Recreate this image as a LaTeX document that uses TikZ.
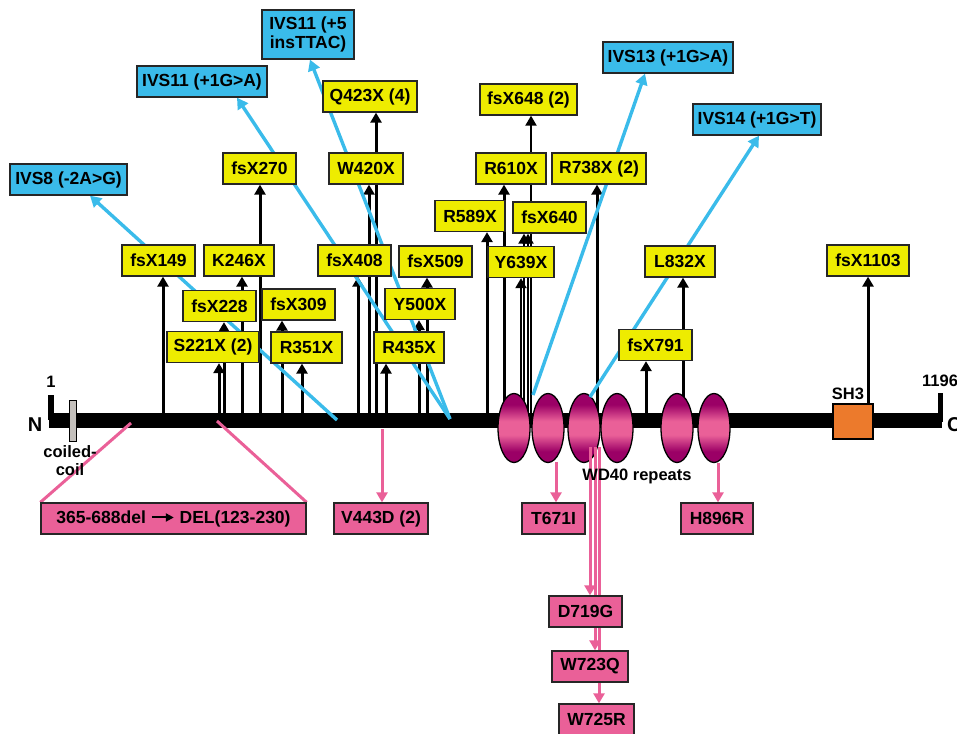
\documentclass[tikz,border=0pt]{standalone}
\usepackage{fontspec}
\setmainfont{Liberation Sans}
\usetikzlibrary{arrows.meta,shapes.geometric}
\definecolor{stopyellow}{RGB}{238,236,0}
\definecolor{spliceblue}{RGB}{58,187,234}
\definecolor{misspink}{RGB}{234,96,152}
\definecolor{wdmagenta}{RGB}{155,0,102}
\definecolor{shorange}{RGB}{236,122,44}
\definecolor{ccgray}{RGB}{196,192,188}
\pgfdeclareverticalshading{wdshade}{100bp}{color(0bp)=(wdmagenta); color(25bp)=(wdmagenta);
   color(33bp)=(wdmagenta); color(45bp)=(misspink); color(55bp)=(misspink);
   color(67bp)=(wdmagenta); color(75bp)=(wdmagenta); color(100bp)=(wdmagenta)}
\pgfdeclarelayer{back}
\pgfdeclarelayer{mid}
\pgfdeclarelayer{lines}
\pgfsetlayers{back,mid,lines,main}
\begin{document}
\begin{tikzpicture}[x=1pt, y=-1pt,
   box/.style={draw=black!85, line width=1.3pt, inner sep=0pt, minimum height=31pt,
      font=\fontsize{17.5}{19}\selectfont\bfseries, align=center},
   stopbox/.style={box, fill=stopyellow},
   splicebox/.style={box, fill=spliceblue},
   missbox/.style={box, fill=misspink},
   stop/.style={line width=3pt, -{Triangle[width=11pt,length=10pt]}},
   thinstop/.style={stop, line width=2pt},
   splice/.style={spliceblue, line width=3.4pt, -{Triangle[width=12pt,length=11pt]}},
   miss/.style={misspink, line width=3pt, -{Triangle[width=11pt,length=10pt]}},
   delline/.style={misspink, line width=3pt},
   lbl/.style={font=\fontsize{16.5}{18}\selectfont\bfseries, inner sep=0pt},
   wd/.style={ellipse, draw=black, line width=1.3pt, inner sep=0pt,
      minimum width=32pt, minimum height=69pt, shading=wdshade}]
   \clip (0,0) rectangle (957,733);
   \def \Stops {
      s149/158.5/260.5/73/fsX149,
      k246/239/260.5/70/K246X,
      s228/219.5/306/73/fsX228,
      s309/298.5/304.5/73/fsX309,
      s221/213/347/92/S221X (2),
      r351/306.5/347.5/71/R351X,
      s270/259.5/168.5/73/fsX270,
      s408/354.5/260.5/73/fsX408,
      w420/366/168.5/74/W420X,
      q423/370/96.5/94/Q423X (4),
      r435/409/347.5/70/R435X,
      y500/420/304/70/Y500X,
      s509/435.5/261.5/73/fsX509,
      r589/470/216/70/R589X,
      r610/511/168.5/70/R610X,
      s648/528.5/99.5/97/fsX648 (2),
      y639/521/262/66/Y639X,
      s640/549.5/217.5/73/fsX640,
      r738/599/168.5/94/R738X (2),
      s791/655.5/345/73/fsX791,
      l832/680/261.5/70/L832X,
      s1103/868/260.5/82/fsX1103}
   \def \Splices {
      ivs8/68.5/179.5/117/31/IVS8 (-2A>G),
      ivs11a/202/81.5/130/31/IVS11 (+1G>A),
      ivs11b/308/34.5/92/49/{IVS11 (+5\\insTTAC)},
      ivs13/668/57.5/130/31/IVS13 (+1G>A),
      ivs14/757/119.5/128/31/IVS14 (+1G>T)}
   \def \Missense {
      v443/381/518.5/94/V443D (2),
      t671/553.5/518.5/63/T671I,
      h896/717/518.5/72/H896R,
      d719/585.5/611.5/73/D719G,
      w723/590/666.5/76/W723Q,
      w725/596.5/719.5/75/W725R}
   % mutation boxes
   \foreach \u / \x / \y / \w / \n in \Stops {
      \node[stopbox, minimum width=\w pt] (\u) at (\x,\y) {\n};
   }
   \foreach \u / \x / \y / \w / \h / \n in \Splices {
      \node[splicebox, minimum width=\w pt, minimum height=\h pt] (\u) at (\x,\y) {\n};
   }
   \foreach \u / \x / \y / \w / \n in \Missense {
      \node[missbox, minimum width=\w pt] (\u) at (\x,\y) {\n};
   }
   \node[missbox, minimum width=265pt] (del) at (173.5,518.5) {365-688del
      \tikz[baseline=-0.6ex]\draw[line width=2pt,-{Triangle[width=8pt,length=8pt]}] (0pt,0pt) -- (22pt,0pt);
      DEL(123-230)};
   % protein backbone and truncating mutations
   \begin{pgfonlayer}{back}
      \fill (49,413) rectangle (942,428);
      \fill (48,395) rectangle (54,420);
      \fill (938,393) rectangle (943,422);
      \foreach \x / \t in {163/s149, 219/s221, 224/s228, 242/k246, 260/s270, 282/s309,
            302/r351, 358/s408, 369/w420, 376/q423, 386/r435, 419/y500, 427/s509,
            487/r589, 504/r610, 597/r738, 646/s791, 683/l832, 868/s1103} {
         \coordinate (b\x) at (\x,414);
         \draw[stop] (b\x) -- (b\x |- \t.south);
      }
      \foreach \x / \t in {521/y639, 524/s640, 528/s640, 531/s648} {
         \coordinate (b\x) at (\x,414);
         \draw[thinstop] (b\x) -- (b\x |- \t.south);
      }
   \end{pgfonlayer}
   % domains
   \begin{pgfonlayer}{mid}
      \node[draw, fill=ccgray, line width=1pt, inner sep=0pt, minimum width=7pt,
         minimum height=41pt] (cc) at (72.5,420.5) {};
      \node[draw, fill=shorange, line width=1.3pt, inner sep=0pt, minimum width=40pt,
         minimum height=35pt] (sh3) at (853,421.5) {};
      \foreach \u / \x in {1/514, 2/548, 3/584, 4/617, 5/677, 6/714} {
         \node[wd] (wd\u) at (\x,428) {};
      }
   \end{pgfonlayer}
   % splice site and missense mutations
   \begin{pgfonlayer}{lines}
      \foreach \x / \y / \t / \s in {337/420/ivs8/21.5, 450/419/ivs11a/35,
            450/419/ivs11b/2, 533/395/ivs13/-23, 590/397/ivs14/2} {
         \coordinate (c\t) at (\x,\y);
         \draw[splice] (c\t) -- ([xshift=\s pt]\t.south);
      }
      \foreach \x / \y / \t / \s in {382/429/v443/1, 556/462/t671/2.5, 718/463/h896/1,
            590/447/d719/4.5, 595/447/w723/5, 599/447/w725/2.5} {
         \coordinate (m\t) at (\x,\y);
         \draw[miss] (m\t) -- ([xshift=\s pt]\t.north);
      }
      \coordinate (d1) at (131,423);
      \coordinate (d2) at (217,421);
      \draw[delline] (d1) -- (del.north west);
      \draw[delline] (d2) -- (del.north east);
   \end{pgfonlayer}
   % labels
   \node[lbl] (one) at (51,382) {1};
   \node[lbl, anchor=west] (last) at (922,381) {1196};
   \node[font=\fontsize{20}{22}\selectfont\bfseries, inner sep=0pt] (nterm) at (35,425) {N};
   \node[font=\fontsize{20}{22}\selectfont\bfseries, inner sep=0pt, anchor=west] (cterm) at (947,425) {C};
   \node[lbl, align=center] (cclbl) at (70,461) {coiled-\\coil};
   \node[lbl] (shlbl) at (848,394) {SH3};
   \node[lbl] (wdlbl) at (637,476) {WD40 repeats};
\end{tikzpicture}
\end{document}
